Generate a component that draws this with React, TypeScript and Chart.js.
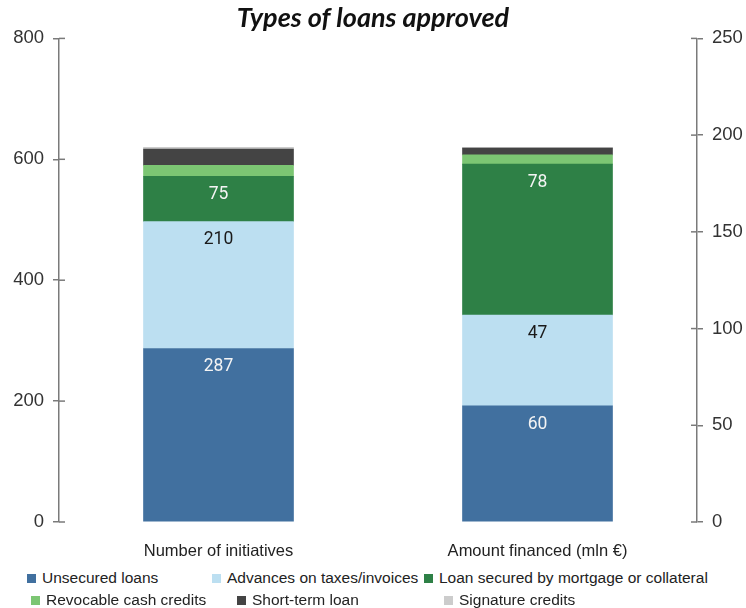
import React, { useEffect, useRef } from "react";
import { Chart, registerables } from "chart.js";

Chart.register(...registerables);

const categories = ["Number of initiatives", "Amount financed (mln €)"];
const seriesNames = [
  "Unsecured loans",
  "Advances on taxes/invoices",
  "Loan secured by mortgage or collateral",
  "Revocable cash credits",
  "Short-term loan",
  "Signature credits",
];
const initiatives = [287, 210, 75, 18, 27, 3];
const amounts = [60, 47, 78, 4.8, 3.5, 0.4];
const labelledSeries = [0, 1, 2];
const leftAxisMax = 800;
const leftAxisStep = 200;
const rightAxisMax = 250;
const rightAxisStep = 50;
const titleText = "Types of loans approved";

const seriesColors = ["#41709f", "#bcdff1", "#2e8046", "#7cc673", "#444444", "#cccccc"];
const valueLabelColors = ["#f4f4f4", "#1a1a1a", "#f4f4f4"];
const legendRows = [
  [0, 1, 2],
  [3, 4, 5],
];
const legendColumnLefts = [
  [27, 212, 424],
  [31, 237, 444],
];

const AXIS_COLOR = "#7a7a7a";

const valueLabelsPlugin = {
  id: "valueLabels",
  afterDatasetsDraw(chart: any) {
    const ctx = chart.ctx;
    chart.data.datasets.forEach((ds: any, di: number) => {
      const s = ds.seriesIndex;
      if (!labelledSeries.includes(s)) return;
      const meta = chart.getDatasetMeta(di);
      meta.data.forEach((el: any, i: number) => {
        const v = ds.data[i];
        if (v == null) return;
        ctx.save();
        ctx.font = "17.5px Roboto";
        ctx.fillStyle = valueLabelColors[s];
        ctx.textAlign = "center";
        ctx.textBaseline = "middle";
        ctx.fillText(String(v), el.x, el.y + 18.5);
        ctx.restore();
      });
    });
  },
};

const innerTicksPlugin = {
  id: "innerTicks",
  afterDraw(chart: any) {
    const ctx = chart.ctx;
    const { left, right } = chart.chartArea;
    ["y", "y1"].forEach((id) => {
      const sc = chart.scales[id];
      ctx.save();
      ctx.strokeStyle = AXIS_COLOR;
      ctx.lineWidth = 1.5;
      sc.ticks.forEach((t: any) => {
        const py = sc.getPixelForValue(t.value);
        ctx.beginPath();
        if (id === "y") {
          ctx.moveTo(left, py);
          ctx.lineTo(left + 6, py);
        } else {
          ctx.moveTo(right - 6, py);
          ctx.lineTo(right, py);
        }
        ctx.stroke();
      });
      ctx.restore();
    });
  },
};

export default function App() {
  const canvasRef = useRef<HTMLCanvasElement | null>(null);

  useEffect(() => {
    if (!canvasRef.current) return;
    const datasets: any[] = [];
    seriesNames.forEach((name, i) => {
      datasets.push({
        label: name,
        seriesIndex: i,
        data: [initiatives[i], null],
        yAxisID: "y",
        stack: "s",
        backgroundColor: seriesColors[i],
        barThickness: 150,
      });
    });
    seriesNames.forEach((name, i) => {
      datasets.push({
        label: name,
        seriesIndex: i,
        data: [null, amounts[i]],
        yAxisID: "y1",
        stack: "s",
        backgroundColor: seriesColors[i],
        barThickness: 150,
      });
    });

    const axisCommon = {
      stacked: true,
      min: 0,
      grid: {
        drawOnChartArea: false,
        drawTicks: true,
        tickLength: 6,
        color: AXIS_COLOR,
        lineWidth: 1.5,
      },
      border: { display: true, color: AXIS_COLOR, width: 1.5 },
    };

    const chart = new Chart(canvasRef.current, {
      type: "bar",
      data: { labels: categories, datasets },
      plugins: [valueLabelsPlugin, innerTicksPlugin],
      options: {
        animation: false,
        responsive: true,
        maintainAspectRatio: false,
        layout: { padding: 0 },
        plugins: {
          legend: { display: false },
          tooltip: { enabled: false },
          title: {
            display: true,
            text: titleText,
            color: "#111",
            font: { family: "Lato", size: 27, weight: "bold", style: "italic" },
            padding: { top: 2, bottom: 4 },
          },
        },
        scales: {
          x: {
            stacked: true,
            offset: true,
            grid: { display: false },
            border: { display: false },
            ticks: {
              color: "#222",
              padding: 12,
              font: { family: "Liberation Sans, Arial", size: 16.5 },
            },
            afterFit: (s: any) => {
              s.height = 38;
            },
          },
          y: {
            ...axisCommon,
            position: "left",
            max: leftAxisMax,
            ticks: {
              stepSize: leftAxisStep,
              color: "#333",
              padding: 9,
              font: { family: "Liberation Sans, Arial", size: 18.5 },
            },
            afterFit: (s: any) => {
              s.width = 59;
            },
          },
          y1: {
            ...axisCommon,
            position: "right",
            max: rightAxisMax,
            ticks: {
              stepSize: rightAxisStep,
              color: "#333",
              padding: 9,
              font: { family: "Liberation Sans, Arial", size: 18.5 },
            },
            afterFit: (s: any) => {
              s.width = 49;
            },
          },
        },
      } as any,
    });
    return () => chart.destroy();
  }, []);

  return (
    <div
      style={{
        position: "fixed",
        left: 0,
        top: 0,
        width: 746,
        height: 608,
        background: "#fff",
        fontFamily: "Liberation Sans, Arial, sans-serif",
      }}
    >
      <div style={{ position: "absolute", left: 0, top: 0, width: 746, height: 560 }}>
        <canvas ref={canvasRef} />
      </div>
      {legendRows.map((row, r) => (
        <div key={r} style={{ position: "absolute", left: 0, top: 568 + r * 22, width: 746, height: 20 }}>
          {row.map((si, c) => (
            <div
              key={si}
              style={{
                position: "absolute",
                left: legendColumnLefts[r][c],
                top: 0,
                height: 20,
                lineHeight: "20px",
                fontSize: 15.5,
                color: "#222",
                whiteSpace: "nowrap",
                display: "flex",
                alignItems: "center",
              }}
            >
              <span
                style={{
                  display: "inline-block",
                  width: 9,
                  height: 9,
                  background: seriesColors[si],
                  marginRight: 6,
                }}
              />
              <span>{seriesNames[si]}</span>
            </div>
          ))}
        </div>
      ))}
    </div>
  );
}
